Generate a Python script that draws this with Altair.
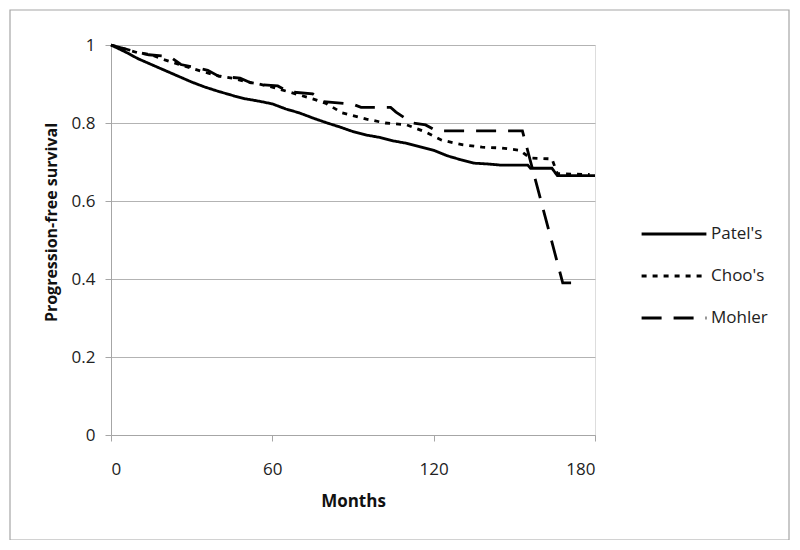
import altair as alt
import pandas as pd

# Patel's (solid)
patel_m = [0, 3, 6, 10, 15, 20, 25, 30, 35, 40, 46, 50, 55, 60, 65, 70, 75, 80, 85, 90,
           95, 100, 105, 110, 115, 120, 125, 130, 135, 140, 145, 155, 156, 164, 166, 180]
patel_s = [1.0, 0.99, 0.98, 0.965, 0.95, 0.935, 0.92, 0.905, 0.892, 0.881, 0.869, 0.862, 0.856,
           0.849, 0.836, 0.826, 0.813, 0.801, 0.79, 0.778, 0.769, 0.763, 0.754, 0.748, 0.739,
           0.73, 0.716, 0.706, 0.697, 0.695, 0.692, 0.692, 0.684, 0.684, 0.665, 0.665]

# Choo's (dotted)
choo_m = [0, 5, 10, 15, 20, 25, 30, 35, 40, 45, 50, 55, 60, 65, 70, 75, 80, 86, 95, 102,
          110, 117, 123, 131, 138, 145, 152, 156, 164, 166, 178]
choo_s = [1.0, 0.99, 0.98, 0.975, 0.962, 0.951, 0.94, 0.93, 0.921, 0.915, 0.906, 0.9, 0.892,
          0.882, 0.872, 0.862, 0.85, 0.826, 0.81, 0.8, 0.795, 0.777, 0.756, 0.744, 0.738, 0.736,
          0.73, 0.71, 0.708, 0.67, 0.668]

# Mohler (dashed)
mohler_m = [0, 8, 14, 22, 26, 36, 40, 48, 53, 62, 66, 75, 79, 90, 93, 104, 106, 112, 117,
            121, 153, 168, 175]
mohler_s = [1.0, 0.985, 0.975, 0.97, 0.95, 0.935, 0.92, 0.915, 0.9, 0.895, 0.88, 0.875, 0.855,
            0.848, 0.84, 0.84, 0.828, 0.8, 0.795, 0.78, 0.78, 0.39, 0.39]

series_names = ["Patel's", "Choo's", "Mohler"]
x_ticks = [0, 60, 120, 180]
y_ticks = [0, 0.2, 0.4, 0.6, 0.8, 1.0]

rows = []
for name, ms, ss in zip(series_names, [patel_m, choo_m, mohler_m], [patel_s, choo_s, mohler_s]):
    for i, (m, s) in enumerate(zip(ms, ss)):
        rows.append({"series": name, "month": m, "surv": s, "order": i})
df = pd.DataFrame(rows)

FONT = "Open Sans"
GRAY = "#a6a6a6"

lines = alt.Chart(df).mark_line(color="black", strokeWidth=2.8).encode(
    x=alt.X("month:Q", scale=alt.Scale(domain=[0, 180], nice=False),
            axis=alt.Axis(values=x_ticks, title="Months", grid=False, tickSize=6,
                          labelPadding=20, titlePadding=16, domainColor=GRAY, tickColor=GRAY,
                          labelFontSize=17, titleFontSize=17, labelColor="#222",
                          titleColor="#111", titleFontWeight="bold", labelFont=FONT, titleFont=FONT)),
    y=alt.Y("surv:Q", scale=alt.Scale(domain=[0, 1], nice=False),
            axis=alt.Axis(values=y_ticks, format="~g", title="Progression-free survival",
                          grid=True, gridColor="#b3b3b3", tickSize=6, labelPadding=10,
                          titlePadding=12, domainColor=GRAY, tickColor=GRAY,
                          labelFontSize=17, titleFontSize=16, labelColor="#222",
                          titleColor="#111", titleFontWeight="bold", labelFont=FONT,
                          titleFont=FONT, titleY=177)),
    strokeDash=alt.StrokeDash("series:N",
                              scale=alt.Scale(domain=series_names,
                                              range=[[1, 0], [5, 6], [20, 12]]),
                              legend=alt.Legend(title=None, orient="none", legendX=529,
                                                legendY=155, symbolType="stroke",
                                                symbolSize=4200, symbolStrokeWidth=2.8,
                                                symbolStrokeColor="black", labelFontSize=17,
                                                labelFont=FONT, labelColor="#222",
                                                rowPadding=-8, labelOffset=3, padding=0)),
    order="order:Q",
)

border = alt.Chart(pd.DataFrame({"k": [0]})).mark_rect(
    fill=None, stroke=GRAY, strokeWidth=1.2, clip=False
).encode(x=alt.value(-101), x2=alt.value(678), y=alt.value(-35), y2=alt.value(495))

chart = alt.layer(border, lines).properties(
    width=484, height=390,
    autosize=alt.AutoSizeParams(type="none"),
    padding={"left": 103, "top": 37, "right": 197, "bottom": 105},
).configure_view(stroke=None).configure(background="white")

chart.save("out.html", embed_options={"renderer": "svg", "actions": False})
